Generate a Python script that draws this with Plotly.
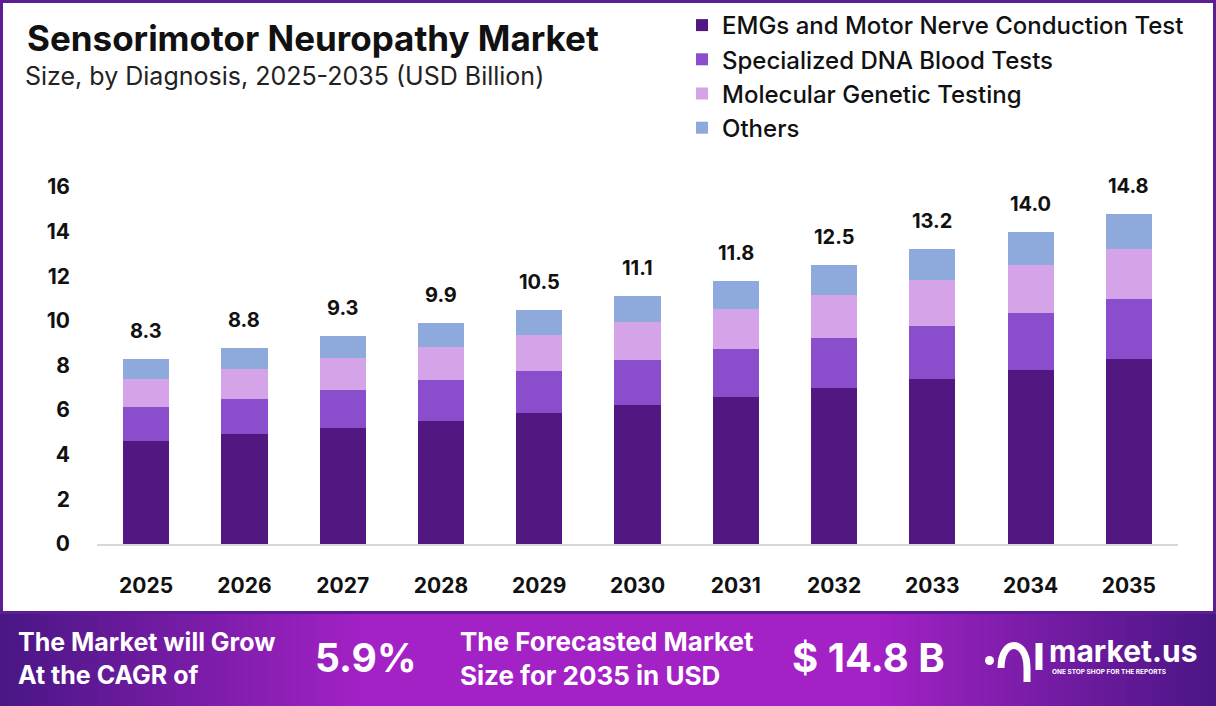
import numpy as np
import plotly.graph_objects as go

# data (USD Billion)
years = ['2025', '2026', '2027', '2028', '2029', '2030', '2031', '2032', '2033', '2034', '2035']
emg = [4.62, 4.95, 5.22, 5.53, 5.89, 6.23, 6.58, 7.00, 7.40, 7.80, 8.30]
dna = [1.54, 1.57, 1.69, 1.82, 1.85, 2.02, 2.16, 2.24, 2.39, 2.54, 2.70]
molecular = [1.24, 1.31, 1.42, 1.50, 1.63, 1.69, 1.81, 1.93, 2.05, 2.17, 2.23]
others = [0.90, 0.97, 0.97, 1.05, 1.13, 1.16, 1.25, 1.33, 1.36, 1.49, 1.57]
totals = [8.3, 8.8, 9.3, 9.9, 10.5, 11.1, 11.8, 12.5, 13.2, 14.0, 14.8]

seg_names = ['EMGs and Motor Nerve Conduction Test', 'Specialized DNA Blood Tests',
             'Molecular Genetic Testing', 'Others']
seg_colors = ['#521882', '#8a4dcc', '#d4a3e8', '#8eaadc']

cagr = '5.9%'
forecast = '$ 14.8 B'

W, H = 1216, 706
FONT = 'Inter'

def px(x):
    return x / W

def py(y):
    return 1 - y / H

fig = go.Figure()
for name, vals, col in zip(seg_names, [emg, dna, molecular, others], seg_colors):
    fig.add_trace(go.Bar(x=years, y=vals, name=name, marker=dict(color=col, line=dict(width=0)),
                         hoverinfo='y+name'))

shapes = []
# white card over purple frame
shapes.append(dict(type='rect', xref='paper', yref='paper', x0=px(3), x1=px(1213), y0=py(611), y1=py(3),
                   fillcolor='white', line=dict(width=0), layer='below'))
# gradient banner at bottom
n = 150
for i in range(n):
    t = (i + 0.5) / n
    # dark at edges, magenta in the middle-left
    if t < 0.3:
        k = t / 0.3
    elif t < 0.72:
        k = 1.0
    else:
        k = max(0.0, 1 - (t - 0.72) / 0.28)
    dark = np.array([0x4a, 0x17, 0x85])
    bright = np.array([0xa3, 0x22, 0xc6])
    c = dark + (bright - dark) * k
    shapes.append(dict(type='rect', xref='paper', yref='paper', x0=i / n, x1=(i + 1) / n + 0.001,
                       y0=0, y1=py(614), fillcolor='rgb(%d,%d,%d)' % tuple(c.astype(int)),
                       line=dict(width=0), layer='below'))

# simple logo mark
shapes.append(dict(type='circle', xref='paper', yref='paper', x0=px(985), x1=px(994), y0=py(665), y1=py(656),
                   fillcolor='white', line=dict(width=0)))
shapes.append(dict(type='path', xref='paper', yref='paper',
                   path='M %f %f C %f %f, %f %f, %f %f' % (px(1001), py(668), px(1001), py(638),
                                                          px(1027), py(638), px(1027), py(668)),
                   line=dict(color='white', width=7)))
shapes.append(dict(type='line', xref='paper', yref='paper', x0=px(1027), x1=px(1027), y0=py(668), y1=py(682),
                   line=dict(color='white', width=7)))
shapes.append(dict(type='line', xref='paper', yref='paper', x0=px(1039), x1=px(1039), y0=py(643), y1=py(670),
                   line=dict(color='white', width=7)))

annotations = [
    dict(text='<b>Sensorimotor Neuropathy Market</b>', x=px(25), y=py(38), xanchor='left', yanchor='middle',
         font=dict(family=FONT, size=35, color='#111111')),
    dict(text='Size, by Diagnosis, 2025-2035 (USD Billion)', x=px(23), y=py(76), xanchor='left', yanchor='middle',
         font=dict(family=FONT, size=25, color='#222222')),
    dict(text='<b>The Market will Grow<br>At the CAGR of</b>', x=px(16), y=py(658), xanchor='left',
         yanchor='middle', align='left', font=dict(family=FONT, size=25, color='white')),
    dict(text='<b>%s</b>' % cagr, x=px(366), y=py(657), xanchor='center', yanchor='middle',
         font=dict(family=FONT, size=39, color='white')),
    dict(text='<b>The Forecasted Market<br>Size for 2035 in USD</b>', x=px(458), y=py(658), xanchor='left',
         yanchor='middle', align='left', font=dict(family=FONT, size=26, color='white')),
    dict(text='<b>%s</b>' % forecast, x=px(868), y=py(657), xanchor='center', yanchor='middle',
         font=dict(family=FONT, size=40, color='white')),
    dict(text='<b>market.us</b>', x=px(1047), y=py(651), xanchor='left', yanchor='middle',
         font=dict(family=FONT, size=30, color='white')),
    dict(text='<b>ONE STOP SHOP FOR THE REPORTS</b>', x=px(1050), y=py(672), xanchor='left', yanchor='middle',
         font=dict(family=FONT, size=6.5, color='white')),
]
for a in annotations:
    a.update(xref='paper', yref='paper', showarrow=False)

# total value above each stack (x given as category index)
for i, tot in enumerate(totals):
    annotations.append(dict(x=i, y=tot, xref='x', yref='y', text='%.1f' % tot, showarrow=False,
                            yanchor='bottom', yshift=14,
                            font=dict(family=FONT, size=20, color='#111111', weight='bold')))

fig.update_layout(
    width=W, height=H,
    margin=dict(l=0, r=0, t=0, b=0, autoexpand=False),
    paper_bgcolor='#5b1e94',
    plot_bgcolor='white',
    barmode='stack',
    bargap=0.53,
    shapes=shapes,
    annotations=annotations,
    showlegend=True,
    legend=dict(x=px(682), y=py(3), xanchor='left', yanchor='top', traceorder='normal',
                bgcolor='rgba(0,0,0,0)', font=dict(family=FONT, size=24, color='#111111', weight=500),
                itemwidth=30, tracegroupgap=0),
    xaxis=dict(type='category', domain=[px(97), px(1178)], range=[-0.5, len(years) - 0.5],
               showgrid=False, showline=True, linecolor='#d8d8d8',
               linewidth=1.5, ticks='', ticklabelstandoff=22, fixedrange=True, automargin=False,
               tickfont=dict(family=FONT, size=21, color='#111111', weight='bold')),
    yaxis=dict(domain=[py(544), py(187)], range=[0, 16], dtick=2, showgrid=False, zeroline=False,
               showline=False, ticks='', ticklabelstandoff=26, fixedrange=True, automargin=False,
               tickfont=dict(family=FONT, size=21, color='#111111', weight='bold')),
)

fig.write_html('out.html', config={'displayModeBar': False},
               post_script="document.body.style.margin='0';")
